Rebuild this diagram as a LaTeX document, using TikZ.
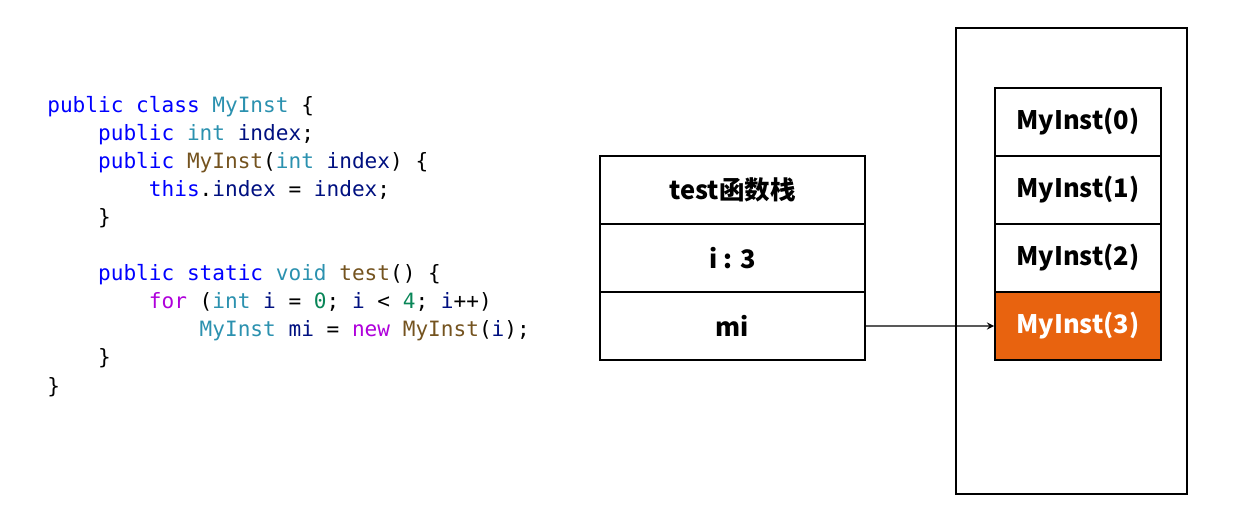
\documentclass[tikz,border=0pt]{standalone}
\usepackage{fontspec}
\setmonofont{DejaVu Sans Mono}
\newfontfamily\cjk{Noto Sans CJK SC}

\definecolor{ckwc}{RGB}{0,0,255}
\definecolor{ctypec}{RGB}{43,145,175}
\definecolor{cmethc}{RGB}{116,83,31}
\definecolor{cvarc}{RGB}{0,16,128}
\definecolor{cctlc}{RGB}{175,0,219}
\definecolor{cnumc}{RGB}{9,134,88}
\definecolor{objorange}{RGB}{232,99,15}

\newcommand{\ckw}[1]{\textcolor{ckwc}{#1}}
\newcommand{\ctype}[1]{\textcolor{ctypec}{#1}}
\newcommand{\cmeth}[1]{\textcolor{cmethc}{#1}}
\newcommand{\cvar}[1]{\textcolor{cvarc}{#1}}
\newcommand{\cctl}[1]{\textcolor{cctlc}{#1}}
\newcommand{\cnum}[1]{\textcolor{cnumc}{#1}}
\newcommand{\cind}{\hphantom{0000}}

\tikzset{
    cell/.style={draw, line width=1.1pt, minimum width=5.3cm, minimum height=1.36cm,
        font=\cjk\bfseries\fontsize{14.5}{17}\selectfont},
    objcell/.style={cell, minimum width=3.32cm}
}

\begin{document}
\begin{tikzpicture}[node distance=1.36cm]

    \useasboundingbox (0,0) rectangle (24.88,-10.56);

    % code
    \node [anchor=base west, inner sep=0pt, align=left,
        font=\ttfamily\fontsize{12}{15.94}\selectfont] (code) at (0.94,-7.86) {%
        \ckw{public} \ckw{class} \ctype{MyInst} \{\\
        \cind\ckw{public} \ctype{int} \cvar{index};\\
        \cind\ckw{public} \cmeth{MyInst}(\ctype{int} \cvar{index}) \{\\
        \cind\cind\ckw{this}.\cvar{index} = \cvar{index};\\
        \cind\}\\
        \mbox{}\\
        \cind\ckw{public} \ckw{static} \ctype{void} \cmeth{test}() \{\\
        \cind\cind\cctl{for} (\ctype{int} \cvar{i} = \cnum{0}; \cvar{i} < \cnum{4}; \cvar{i}++)\\
        \cind\cind\cind\ctype{MyInst} \cvar{mi} = \cctl{new} \cmeth{MyInst}(\cvar{i});\\
        \cind\}\\
        \}};

    % stack
    \node [cell] (stackTitle) at (14.65,-3.8) {test函数栈};
    \node [cell] (stackI) [below of=stackTitle] {i : 3};
    \node [cell] (stackMi) [below of=stackI] {mi};

    % heap
    \node [draw, line width=1.1pt, minimum width=4.62cm, minimum height=9.32cm] (heap) at (21.43,-5.22) {};
    \node [objcell] (obj0) at (21.56,-2.44) {MyInst(0)};
    \node [objcell] (obj1) [below of=obj0] {MyInst(1)};
    \node [objcell] (obj2) [below of=obj1] {MyInst(2)};
    \node [objcell, fill=objorange, text=white] (obj3) [below of=obj2] {MyInst(3)};

    \draw[->, >=stealth, line width=0.8pt] (stackMi.east) -- (obj3.west);

\end{tikzpicture}
\end{document}
